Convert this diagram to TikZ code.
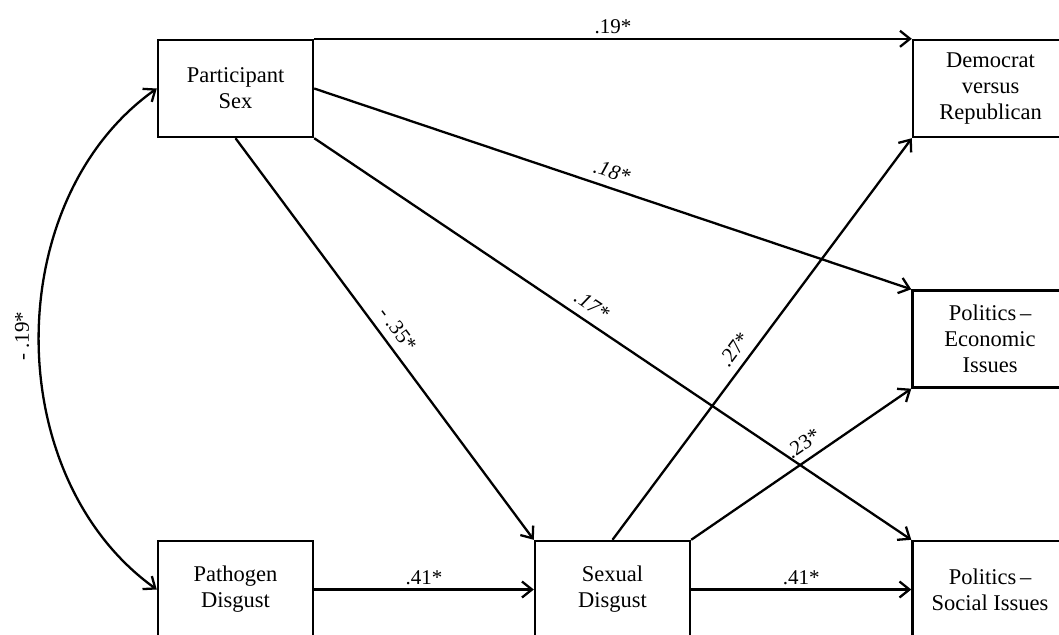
\documentclass[tikz,border=0pt]{standalone}
\usepackage{fontspec}
\setmainfont{Liberation Serif}
\usetikzlibrary{arrows.meta}
\begin{document}
\begin{tikzpicture}[x=1pt,y=-1pt,
  box/.style={draw,line width=2.4pt,minimum width=155pt,minimum height=97pt,inner sep=0pt,align=center,font=\fontsize{22.5}{26}\selectfont},
  arr/.style={line width=2.3pt,-{Straight Barb[length=10pt,width=16pt]}},
  darr/.style={line width=2.3pt,{Straight Barb[length=10pt,width=16pt]}-{Straight Barb[length=10pt,width=16pt]}},
  lab/.style={font=\fontsize{21}{24}\selectfont,inner sep=4pt},
  slab/.style={lab,sloped,above=4pt}]
\useasboundingbox (0,0) rectangle (1059,634);
\clip (0,0) rectangle (1059,634);
\node[box] (ps) at (235.5,88.5) {Participant\\Sex};
\node[box] (dem) at (990.5,88.5) {Democrat\\versus\\Republican};
\node[box] (eco) at (990,339) {Politics\,--\\Economic\\Issues};
\node[box] (path) at (235.5,589.5) {Pathogen\\Disgust};
\node[box] (sex) at (612.5,589.5) {Sexual\\Disgust};
\node[box] (soc) at (990,589.5) {Politics\,--\\Social Issues};
\draw[arr] (ps.north east) -- node[lab,above]{.19*} (dem.north west);
\draw[arr] (ps.east) -- node[slab,pos=.49]{\itshape .18*} (eco.north west);
\draw[arr] (ps.south east) -- node[slab,pos=.45]{\itshape .17*} (soc.north west);
\draw[arr] (ps.south) -- node[slab,pos=.5]{- .35*} (sex.north west);
\draw[arr] (path.east) -- node[lab,above]{.41*} (sex.west);
\draw[arr] (sex.east) -- node[lab,above]{.41*} (soc.west);
\draw[arr] (sex.north) -- node[slab,pos=.45]{.27*} (dem.south west);
\draw[arr] (sex.north east) -- node[slab,pos=.55]{.23*} (eco.south west);
\draw[darr] (ps.west) .. controls (0,200) and (0,477) .. (path.west);
\node[lab,rotate=90] (c) at (22,336) {- .19*};
\end{tikzpicture}
\end{document}
